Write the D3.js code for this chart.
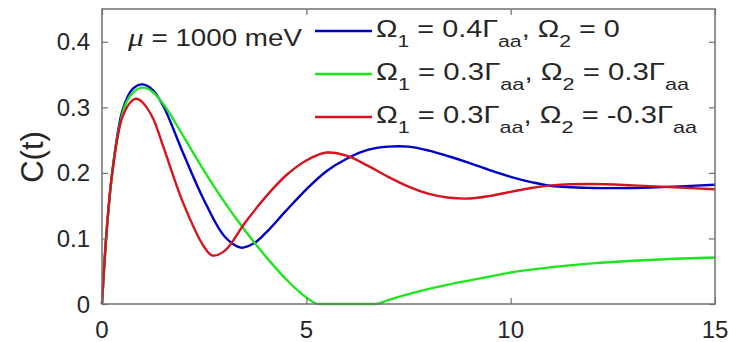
<!DOCTYPE html>
<html lang="en">
<head>
<meta charset="utf-8">
<title>C(t)</title>
<script src="https://cdn.jsdelivr.net/npm/d3@7"></script>
<style>
  body { margin: 0; background: #fff; }
  text { font-family: "Liberation Sans", Arial, sans-serif; fill: #262626; }
</style>
</head>
<body>
<script>
// time axis and C(t) values
var tBlue  = [0, 0.1, 0.25, 0.5, 0.75, 1, 1.25, 1.5, 2, 2.5, 3, 3.4, 3.7, 4, 4.5, 5, 5.5, 6, 6.5, 7, 7.5, 8, 8.5, 9, 9.5, 10, 10.5, 11, 12, 13, 14, 15];
var cBlue  = [0, 0.10, 0.20, 0.295, 0.328, 0.335, 0.326, 0.302, 0.228, 0.158, 0.103, 0.086, 0.092, 0.108, 0.142, 0.175, 0.203, 0.222, 0.235, 0.240, 0.240, 0.234, 0.225, 0.215, 0.204, 0.194, 0.186, 0.180, 0.177, 0.177, 0.179, 0.182];

var tGreen = [0, 0.1, 0.25, 0.5, 0.75, 1, 1.25, 1.5, 2, 2.5, 3, 3.5, 4, 4.5, 5, 5.3, 6.7, 7, 7.5, 8, 8.5, 9, 9.5, 10, 11, 12, 13, 14, 15];
var cGreen = [0, 0.10, 0.20, 0.29, 0.322, 0.330, 0.323, 0.305, 0.255, 0.203, 0.155, 0.112, 0.073, 0.038, 0.010, 0, 0, 0.006, 0.015, 0.023, 0.030, 0.036, 0.042, 0.048, 0.056, 0.062, 0.066, 0.069, 0.071];

var tRed   = [0, 0.1, 0.25, 0.5, 0.75, 0.85, 1, 1.25, 1.5, 2, 2.5, 2.7, 3, 3.5, 4, 4.5, 5, 5.5, 6, 6.5, 7, 7.5, 8, 8.5, 9, 9.5, 10, 10.5, 11, 12, 13, 14, 15];
var cRed   = [0, 0.10, 0.20, 0.285, 0.311, 0.313, 0.307, 0.283, 0.240, 0.152, 0.087, 0.074, 0.081, 0.124, 0.163, 0.196, 0.219, 0.231, 0.226, 0.211, 0.194, 0.179, 0.168, 0.162, 0.161, 0.165, 0.171, 0.177, 0.181, 0.183, 0.181, 0.178, 0.175];

var xTicks = [0, 5, 10, 15];
var yTicks = [0, 0.1, 0.2, 0.3, 0.4];

var legendRows = [
  { color: "#0000c8", parts: [["Ω"], ["1", "sub"], [" = 0.4Γ"], ["aa", "sub"], [", Ω"], ["2", "sub"], [" = 0"]] },
  { color: "#1ee61e", parts: [["Ω"], ["1", "sub"], [" = 0.3Γ"], ["aa", "sub"], [", Ω"], ["2", "sub"], [" = 0.3Γ"], ["aa", "sub"]] },
  { color: "#d4141e", parts: [["Ω"], ["1", "sub"], [" = 0.3Γ"], ["aa", "sub"], [", Ω"], ["2", "sub"], [" = -0.3Γ"], ["aa", "sub"]] }
];
// right end of each legend text in the reference
var legendEnds = [620, 690, 698];

var width = 729, height = 342;
var plotL = 102, plotR = 715, plotT = 9, plotB = 304;

var svg = d3.select("body").append("svg")
  .attr("width", width)
  .attr("height", height);

var x = d3.scaleLinear().domain([0, 15]).range([plotL, plotR]);
var y = d3.scaleLinear().domain([0, 0.45]).range([plotB, plotT]);

var axisColor = "#707070";

// the reference font is a bit wider than Liberation Sans: stretch a text to a width
function fitWidth(sel, x0, x1) {
  var w = sel.node().getBBox().width;
  var k = (x1 - x0) / w;
  sel.attr("transform", "translate(" + x0 + ",0) scale(" + k + ",1) translate(" + (-x0) + ",0)");
}

// curves (green is clipped at zero, so keep it monotone there)
var series = [
  { t: tBlue, c: cBlue, color: legendRows[0].color, curve: d3.curveCatmullRom.alpha(0.5) },
  { t: tGreen, c: cGreen, color: legendRows[1].color, curve: d3.curveMonotoneX },
  { t: tRed, c: cRed, color: legendRows[2].color, curve: d3.curveCatmullRom.alpha(0.5) }
];

series.forEach(function (s) {
  var line = d3.line()
    .x(function (d) { return x(d[0]); })
    .y(function (d) { return y(d[1]); })
    .curve(s.curve);
  svg.append("path")
    .datum(d3.zip(s.t, s.c))
    .attr("d", line)
    .attr("fill", "none")
    .attr("stroke", s.color)
    .attr("stroke-width", 2.4);
});

// frame
svg.append("rect")
  .attr("x", plotL).attr("y", plotT)
  .attr("width", plotR - plotL).attr("height", plotB - plotT)
  .attr("fill", "none")
  .attr("stroke", axisColor)
  .attr("stroke-width", 1.5);

// ticks on all four sides, pointing inward
function axisLines(axis, tx) {
  var g = svg.append("g").attr("transform", tx).call(axis);
  g.select(".domain").remove();
  g.selectAll(".tick line").attr("stroke", axisColor).attr("stroke-width", 1.2);
  g.selectAll("text").remove();
}
axisLines(d3.axisBottom(x).tickValues(xTicks).tickSize(-6), "translate(0," + plotB + ")");
axisLines(d3.axisTop(x).tickValues(xTicks).tickSize(-6), "translate(0," + plotT + ")");
axisLines(d3.axisLeft(y).tickValues(yTicks).tickSize(-6), "translate(" + plotL + ",0)");
axisLines(d3.axisRight(y).tickValues(yTicks).tickSize(-6), "translate(" + plotR + ",0)");

// tick labels
svg.selectAll(".xl").data(xTicks).enter().append("text")
  .attr("class", "xl")
  .attr("x", function (d) { return x(d); })
  .attr("y", 338)
  .attr("text-anchor", "middle")
  .style("font-size", "24px")
  .text(function (d) { return d; });

svg.selectAll(".yl").data(yTicks).enter().append("text")
  .attr("class", "yl")
  .attr("x", 90)
  .attr("y", function (d) { return y(d) + 8.5; })
  .attr("text-anchor", "end")
  .style("font-size", "24px")
  .text(function (d) { return d; });

svg.append("text")
  .attr("transform", "translate(43,157) rotate(-90)")
  .attr("text-anchor", "middle")
  .style("font-size", "31px")
  .text("C(t)");

// mu label
var mu = svg.append("text")
  .attr("x", 128).attr("y", 46)
  .style("font-size", "23px");
mu.append("tspan").style("font-style", "italic").style("font-family", "'Liberation Serif', serif").style("font-size", "26px").text("μ");
mu.append("tspan").text(" = 1000 meV");
fitWidth(mu, 128, 304);

// legend
legendRows.forEach(function (r, i) {
  var ly = 31 + i * 43;
  svg.append("line")
    .attr("x1", 315).attr("x2", 372)
    .attr("y1", ly).attr("y2", ly)
    .attr("stroke", r.color)
    .attr("stroke-width", 2.4);
  var tx = svg.append("text")
    .attr("x", 376).attr("y", ly + 6)
    .style("font-size", "23px");
  var wasSub = false;
  r.parts.forEach(function (p) {
    var ts = tx.append("tspan").text(p[0]);
    var isSub = p[1] == "sub";
    if (isSub) ts.attr("dy", 10).style("font-size", "17px");
    else if (wasSub) ts.attr("dy", -10);
    wasSub = isSub;
  });
  fitWidth(tx, 376, legendEnds[i]);
});
</script>
</body>
</html>
